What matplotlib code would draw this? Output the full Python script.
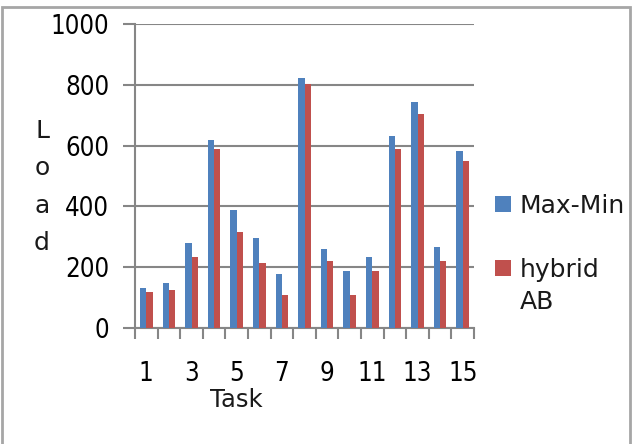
import matplotlib
matplotlib.use("Agg")
import matplotlib.pyplot as plt
import numpy as np
from matplotlib.patches import Rectangle

# 데이터: 태스크별 부하
tasks = list(range(1, 16))
max_min = [133, 148, 280, 617, 388, 295, 179, 821, 259, 188, 235, 631, 743, 268, 582]
hybrid_ab = [120, 126, 234, 590, 316, 215, 110, 802, 220, 108, 188, 590, 704, 220, 548]
y_ticks = [0, 200, 400, 600, 800, 1000]

BLUE, RED = "#4F81BD", "#C0504D"
GRID = "#868686"
FS = 18
TICK_FONT = {"family": ["DejaVu Sans"], "stretch": "condensed", "size": 18.5}

plt.rcParams.update({
    "font.family": ["DejaVu Sans"],
    "text.color": "#1a1a1a",
})

fig = plt.figure(figsize=(6.33, 4.44), dpi=100)
fig.patch.set_facecolor("white")
ax = fig.add_axes([135 / 633, 1 - 328 / 444, (474 - 135) / 633, (328 - 24) / 444])

x = np.arange(len(tasks))
w = 0.28
ax.bar(x - w / 2, max_min, width=w, color=BLUE, label="Max-Min", zorder=3)
ax.bar(x + w / 2, hybrid_ab, width=w, color=RED, label="hybrid", zorder=3)

ax.set_xlim(-0.5, len(tasks) - 0.5)
ax.set_ylim(0, 1000)
ax.set_yticks(y_ticks)
ax.tick_params(axis="y", length=9, width=1.5, color=GRID, pad=9.5)
ax.yaxis.grid(True, color=GRID, linewidth=1.5, zorder=0)

# 카테고리 경계에 눈금, 라벨은 홀수 태스크만
ax.set_xticks(np.arange(-0.5, len(tasks)), labels=[])
ax.set_xticks(x, labels=[str(t) if t % 2 == 1 else "" for t in tasks], minor=True)
ax.tick_params(axis="x", which="major", length=8, width=1.5, color=GRID)
ax.tick_params(axis="x", which="minor", length=0, pad=23.5)
for lbl in ax.get_yticklabels() + ax.get_xticklabels(minor=True):
    lbl.set_fontproperties(TICK_FONT)

for s in ("top", "right"):
    ax.spines[s].set_visible(False)
for s in ("left", "bottom"):
    ax.spines[s].set_color(GRID)
    ax.spines[s].set_linewidth(1.5)

fig.text(236 / 633, 1 - 400 / 444, "Task", fontsize=17.5, ha="center", va="center")
fig.text(42 / 633, 1 - 187 / 444, "L\no\na\nd", fontsize=FS, ha="center", va="center",
         linespacing=1.71)

leg = ax.legend(loc="upper left", bbox_to_anchor=(495 / 633, 1 - 194 / 444),
                bbox_transform=fig.transFigure, frameon=False, fontsize=FS,
                handlelength=0.64, handleheight=0.64, handletextpad=0.36,
                labelspacing=1.6, borderpad=0, borderaxespad=0)
fig.text(520 / 633, 1 - 302 / 444, "AB", fontsize=FS, ha="left", va="center")

fig.patches.append(Rectangle((2 / 633, -0.02), 628 / 633, 1.02 - 7 / 444,
                             transform=fig.transFigure, fill=False,
                             edgecolor="#a6a6a6", linewidth=2))

fig.savefig("out.png", dpi=100)
